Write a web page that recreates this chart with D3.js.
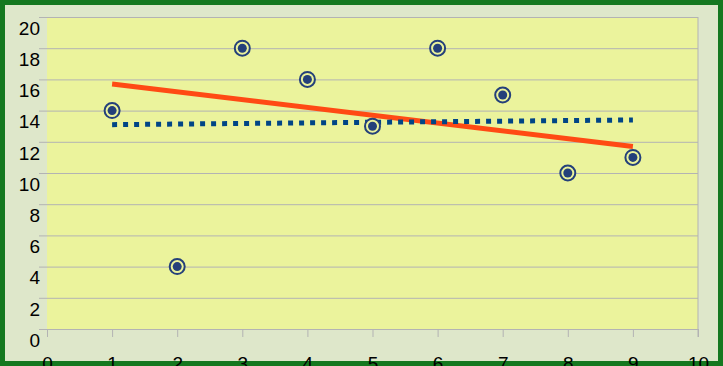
<!DOCTYPE html>
<html>
<head>
<meta charset="utf-8">
<script src="https://cdn.jsdelivr.net/npm/d3@7"></script>
<style>
body { margin: 0; padding: 0; overflow: hidden; }
svg { display: block; font-family: "Liberation Sans", Arial, sans-serif; }
</style>
</head>
<body>
<div id="graphic"></div>
<script>
// data
var xValues = [1, 2, 3, 4, 5, 6, 7, 8, 9];
var yValues = [14, 4, 18, 16, 13, 18, 15, 10, 11];
var redTrendX = [1, 9];
var redTrendY = [15.7, 11.7];
var blueTrendX = [1, 9];
var blueTrendY = [13.1, 13.4];
var yTicks = [0, 2, 4, 6, 8, 10, 12, 14, 16, 18, 20];
var xTicks = [0, 1, 2, 3, 4, 5, 6, 7, 8, 9, 10];

var width = 723, height = 366;
var margin = { top: 17, right: 25, bottom: 37, left: 47 };
var w = width - margin.left - margin.right;
var h = height - margin.top - margin.bottom;

var svg = d3.select("#graphic").append("svg")
	.attr("width", width)
	.attr("height", height);

// outer frame
svg.append("rect")
	.attr("x", 2.5).attr("y", 2.5)
	.attr("width", width - 5).attr("height", height - 5)
	.attr("fill", "#dee7ca")
	.attr("stroke", "#15781f")
	.attr("stroke-width", 5);

var g = svg.append("g")
	.attr("transform", "translate(" + margin.left + "," + margin.top + ")");

var x = d3.scaleLinear().domain([0, 10]).range([0, w]);
var y = d3.scaleLinear().domain([0, 20]).range([h, 0]);

g.append("rect")
	.attr("width", w).attr("height", h)
	.attr("fill", "#ebf39c");

// y grid, ticks stick out to the left
var yAxis = g.append("g")
	.attr("transform", "translate(-8,0)")
	.call(d3.axisLeft(y).tickValues(yTicks).tickSize(-(w + 8)).tickPadding(7));
yAxis.select(".domain").remove();
yAxis.selectAll(".tick line").attr("stroke", "#b3b3b3").attr("stroke-width", 1);
yAxis.selectAll(".tick text")
	.attr("x", 1)
	.attr("font-size", 19)
	.attr("fill", "#000")
	.attr("dy", "0.75em")
	.attr("y", 3);

// x axis
var xAxis = g.append("g")
	.attr("transform", "translate(0," + h + ")")
	.call(d3.axisBottom(x).tickValues(xTicks).tickSize(8).tickPadding(20));
xAxis.select(".domain").attr("stroke", "#b3b3b3");
xAxis.selectAll(".tick line").attr("stroke", "#b3b3b3");
xAxis.selectAll(".tick text").attr("font-size", 19).attr("fill", "#000");

// right border of plot
g.append("line")
	.attr("x1", w).attr("x2", w).attr("y1", 0).attr("y2", h + 8)
	.attr("stroke", "#b3b3b3");

var line = d3.line()
	.x(function(d) { return x(d[0]); })
	.y(function(d) { return y(d[1]); });

g.append("path")
	.datum(redTrendX.map(function(d, i) { return [d, redTrendY[i]]; }))
	.attr("d", line)
	.attr("fill", "none")
	.attr("stroke", "#ff4a14")
	.attr("stroke-width", 5);

g.append("path")
	.datum(blueTrendX.map(function(d, i) { return [d, blueTrendY[i]]; }))
	.attr("d", line)
	.attr("fill", "none")
	.attr("stroke", "#004586")
	.attr("stroke-width", 5)
	.attr("stroke-dasharray", "5,6");

var pts = g.selectAll(".pt")
	.data(xValues.map(function(d, i) { return [d, yValues[i]]; }))
	.enter().append("g")
	.attr("class", "pt")
	.attr("transform", function(d) { return "translate(" + x(d[0]) + "," + y(d[1]) + ")"; });

pts.append("circle")
	.attr("r", 7.5)
	.attr("fill", "#ebf39c")
	.attr("stroke", "#24407a")
	.attr("stroke-width", 2);
pts.append("circle")
	.attr("r", 4.5)
	.attr("fill", "#24407a");
</script>
</body>
</html>
